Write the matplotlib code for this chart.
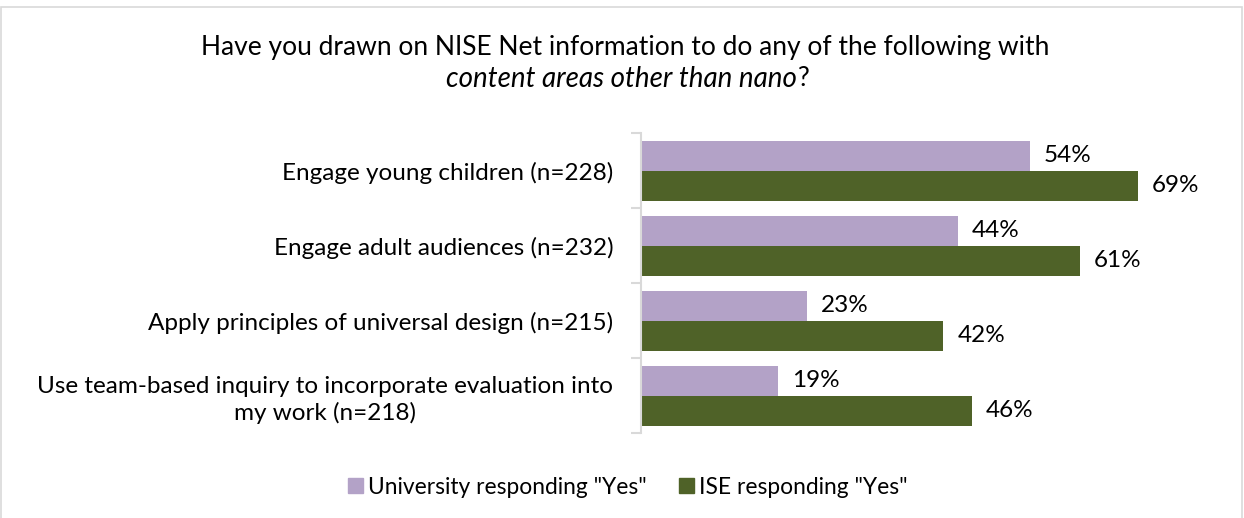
import matplotlib
matplotlib.use("Agg")
import matplotlib.pyplot as plt
from matplotlib.patches import Rectangle, Patch
import numpy as np

categories = [
    "Engage young children (n=228)",
    "Engage adult audiences (n=232)",
    "Apply principles of universal design (n=215)",
    "Use team-based inquiry to incorporate evaluation into\nmy work (n=218)",
]
university_yes = [54, 44, 23, 19]
ise_yes = [69, 61, 42, 46]
series_names = ['University responding "Yes"', 'ISE responding "Yes"']

purple = "#B3A2C7"
green = "#4F6228"
font = "Lato"

plt.rcParams["font.family"] = [font, "DejaVu Sans"]

fig = plt.figure(figsize=(12.44, 5.18), dpi=100)
ax = fig.add_axes([641 / 1244, 85 / 518, 569 / 1244, 300 / 518])

y = np.arange(len(categories))
h = 0.4
b1 = ax.barh(y - h / 2, university_yes, height=h, color=purple, label=series_names[0])
b2 = ax.barh(y + h / 2, ise_yes, height=h, color=green, label=series_names[1])

for bars, vals in ((b1, university_yes), (b2, ise_yes)):
    for bar, v in zip(bars, vals):
        ax.annotate(f"{v}%", (bar.get_width(), bar.get_y() + bar.get_height() / 2),
                    xytext=(10, 0), textcoords="offset points",
                    va="center", ha="left", fontsize=17.5, color="#000000")

ax.set_xlim(0, 569 / 7.2)
ax.set_ylim(len(categories) - 0.5, -0.5)
ax.set_xticks([])
ax.set_yticks(np.arange(len(categories) + 1) - 0.5)
ax.set_yticklabels([])
ax.set_yticks(y, minor=True)
ax.set_yticklabels(categories, minor=True, fontsize=17.5, ha="right", multialignment="center",
                   linespacing=1.28)
ax.tick_params(axis="y", which="major", length=7, color="#D9D9D9", width=1.5)
ax.tick_params(axis="y", which="minor", length=0, pad=20)
for s in ("top", "right", "bottom"):
    ax.spines[s].set_visible(False)
ax.spines["left"].set_color("#D9D9D9")
ax.spines["left"].set_linewidth(1.5)

# title: second line is partly italic
fig.text(625 / 1244, 1 - 48 / 518, "Have you drawn on NISE Net information to do any of the following with",
         ha="center", va="center", fontsize=19)
renderer = fig.canvas.get_renderer()
t1 = fig.text(0, 1 - 79 / 518, "content areas other than nano", style="italic",
              ha="left", va="center", fontsize=20)
t2 = fig.text(0, 1 - 79 / 518, "?", ha="left", va="center", fontsize=19)
w1 = t1.get_window_extent(renderer).width / fig.bbox.width
w2 = t2.get_window_extent(renderer).width / fig.bbox.width
x0 = 627 / 1244 - (w1 + w2) / 2
t1.set_x(x0)
t2.set_x(x0 + w1 + 0.001)

handles = [Patch(color=purple), Patch(color=green)]
fig.legend(handles, series_names, loc="center", bbox_to_anchor=(628 / 1244, 1 - 487 / 518),
           ncol=2, frameon=False, fontsize=16.4, handlelength=0.66, handleheight=0.66,
           handletextpad=0.22, columnspacing=1.4)

fig.patches.append(Rectangle((0.0008, -0.05), 0.9976, 1 - 7 / 518 + 0.05, transform=fig.transFigure,
                             fill=False, edgecolor="#D9D9D9", linewidth=1.2))

fig.savefig("out.png", dpi=100)
